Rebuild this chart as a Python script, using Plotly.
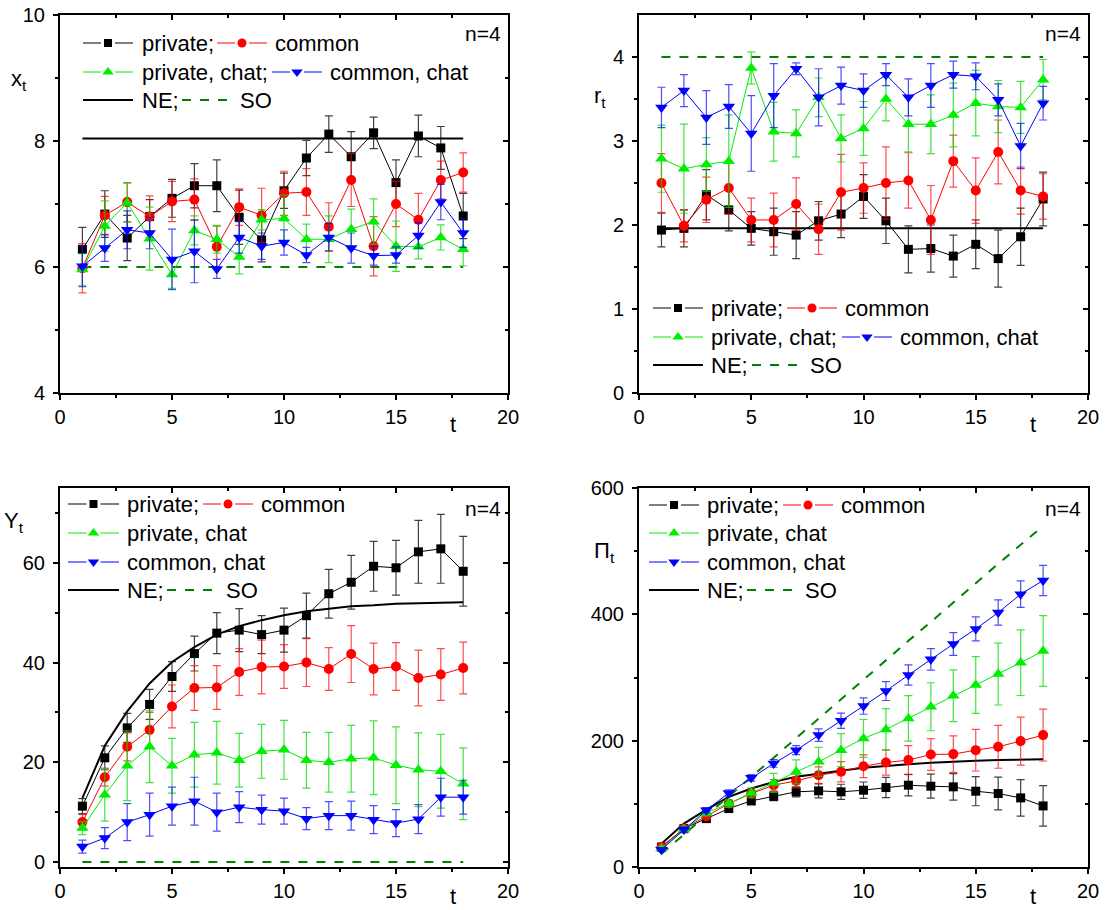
import plotly.graph_objects as go

# ---------------- data ----------------
t = list(range(1, 19))

# panel 1: x_t
x_private = [6.28, 6.84, 6.46, 6.80, 7.09, 7.29, 7.29, 6.79, 6.43, 7.21, 7.73, 8.11, 7.75, 8.13, 7.34, 8.08, 7.89, 6.81]
x_private_err = [0.35, 0.37, 0.36, 0.27, 0.30, 0.35, 0.41, 0.43, 0.35, 0.28, 0.28, 0.29, 0.40, 0.25, 0.36, 0.33, 0.34, 0.36]
x_common = [5.98, 6.82, 7.03, 6.80, 7.04, 7.07, 6.32, 6.95, 6.82, 7.17, 7.19, 6.64, 7.38, 6.33, 7.00, 6.75, 7.38, 7.50]
x_common_err = [0.39, 0.30, 0.31, 0.33, 0.32, 0.33, 0.33, 0.29, 0.43, 0.35, 0.37, 0.38, 0.42, 0.47, 0.36, 0.42, 0.30, 0.31]
x_pchat = [5.96, 6.65, 7.02, 6.45, 5.88, 6.58, 6.44, 6.16, 6.75, 6.77, 6.44, 6.44, 6.60, 6.72, 6.33, 6.32, 6.47, 6.28]
x_pchat_err = [0.25, 0.40, 0.31, 0.50, 0.22, 0.23, 0.22, 0.27, 0.16, 0.37, 0.24, 0.37, 0.32, 0.36, 0.40, 0.19, 0.20, 0.26]
x_cchat = [6.01, 6.30, 6.59, 6.54, 6.12, 6.25, 5.97, 6.47, 6.33, 6.39, 6.19, 6.47, 6.30, 6.18, 6.19, 6.50, 7.03, 6.54]
x_cchat_err = [0.32, 0.21, 0.30, 0.25, 0.48, 0.50, 0.15, 0.25, 0.21, 0.20, 0.12, 0.22, 0.24, 0.15, 0.13, 0.20, 0.28, 0.23]
x_line_t = [1, 18]
x_ne = [8.04, 8.04]
x_so = [6.0, 6.0]

# panel 2: r_t
r_private = [1.94, 1.96, 2.36, 2.18, 1.96, 1.92, 1.88, 2.05, 2.13, 2.34, 2.05, 1.71, 1.72, 1.63, 1.77, 1.60, 1.86, 2.31]
r_private_err = [0.20, 0.22, 0.30, 0.25, 0.20, 0.28, 0.28, 0.23, 0.28, 0.26, 0.27, 0.28, 0.28, 0.25, 0.29, 0.34, 0.34, 0.32]
r_common = [2.50, 1.99, 2.30, 2.44, 2.06, 2.06, 2.25, 1.95, 2.39, 2.44, 2.50, 2.53, 2.06, 2.76, 2.41, 2.87, 2.41, 2.34]
r_common_err = [0.35, 0.19, 0.27, 0.31, 0.26, 0.32, 0.31, 0.30, 0.45, 0.30, 0.43, 0.33, 0.41, 0.31, 0.39, 0.38, 0.28, 0.27]
r_pchat = [2.79, 2.67, 2.72, 2.76, 3.87, 3.11, 3.09, 3.52, 3.03, 3.15, 3.50, 3.20, 3.20, 3.31, 3.45, 3.41, 3.40, 3.73]
r_pchat_err = [0.40, 0.53, 0.32, 0.55, 0.19, 0.35, 0.28, 0.23, 0.28, 0.32, 0.26, 0.33, 0.35, 0.38, 0.39, 0.31, 0.31, 0.24]
r_cchat = [3.40, 3.60, 3.28, 3.41, 3.09, 3.54, 3.86, 3.52, 3.66, 3.60, 3.79, 3.52, 3.66, 3.79, 3.77, 3.49, 2.94, 3.45]
r_cchat_err = [0.24, 0.19, 0.32, 0.26, 0.45, 0.38, 0.07, 0.34, 0.22, 0.20, 0.13, 0.22, 0.26, 0.16, 0.16, 0.19, 0.27, 0.20]
r_line_t = [1, 18]
r_ne = [1.96, 1.96]
r_so = [4.0, 4.0]

# panel 3: Y_t
Y_private = [11.2, 20.9, 26.9, 31.6, 37.2, 41.8, 45.9, 46.5, 45.6, 46.5, 49.4, 53.8, 56.1, 59.3, 59.0, 62.2, 62.8, 58.3]
Y_private_err = [1.5, 2.4, 2.9, 3.0, 3.0, 3.5, 4.1, 4.3, 3.8, 4.4, 4.5, 4.9, 5.4, 5.0, 5.5, 6.3, 6.9, 7.0]
Y_common = [8.0, 17.0, 23.1, 26.5, 31.2, 34.9, 35.0, 38.1, 39.1, 39.2, 40.0, 38.7, 41.7, 38.7, 39.2, 36.9, 37.6, 38.9]
Y_common_err = [1.5, 1.8, 2.8, 3.5, 4.3, 4.5, 4.4, 4.7, 5.4, 4.4, 4.8, 4.3, 5.7, 5.2, 4.8, 5.6, 5.2, 5.2]
Y_pchat = [6.8, 13.5, 19.3, 23.1, 19.3, 21.5, 21.9, 20.4, 22.2, 22.5, 20.4, 20.0, 20.7, 20.9, 19.4, 18.5, 18.2, 15.7]
Y_pchat_err = [1.3, 5.3, 7.0, 7.2, 5.5, 6.5, 6.3, 5.4, 5.4, 5.9, 5.6, 6.0, 6.7, 7.4, 7.7, 7.4, 7.4, 7.2]
Y_cchat = [3.1, 4.8, 8.0, 9.5, 11.2, 12.2, 10.0, 11.0, 10.5, 10.2, 8.7, 9.3, 9.3, 8.5, 7.8, 8.6, 13.0, 13.0]
Y_cchat_err = [1.3, 2.1, 3.7, 4.3, 3.8, 4.8, 3.8, 3.1, 2.9, 2.6, 2.2, 2.8, 2.9, 2.8, 2.7, 2.9, 3.8, 3.4]
Y_ne = [12.8, 23.3, 30.2, 35.8, 40.1, 43.1, 45.6, 47.3, 48.5, 49.5, 50.3, 50.8, 51.3, 51.5, 51.8, 51.9, 52.0, 52.1]
Y_so_t = [1, 18]
Y_so = [0.0, 0.0]

# panel 4: Pi_t
P_private = [31.7, 60.8, 76.6, 92.5, 104.7, 112.0, 119.0, 120.5, 119.0, 121.6, 125.8, 129.5, 127.9, 126.9, 120.0, 116.3, 109.4, 96.7]
P_private_err = [4, 5, 5, 6, 6, 7, 8, 11, 12, 13, 16, 17, 19, 21, 23, 26, 29, 32]
P_common = [31.7, 60.8, 80.3, 100.4, 116.3, 129.5, 136.4, 145.4, 150.7, 159.6, 165.5, 169.2, 178.1, 178.7, 185.0, 190.3, 199.3, 208.8]
P_common_err = [4, 4, 5, 5, 6, 9, 11, 13, 16, 18, 20, 23, 25, 29, 33, 34, 38, 41]
P_pchat = [29.1, 59.2, 85.6, 100.4, 117.3, 133.2, 150.7, 166.5, 185.0, 203.5, 217.8, 235.2, 253.7, 271.2, 288.1, 305.5, 323.5, 342.0]
P_pchat_err = [4, 5, 5, 6, 8, 15, 19, 23, 26, 30, 33, 36, 38, 41, 45, 49, 52, 56]
P_cchat = [27.5, 59.2, 89.9, 117.3, 141.1, 163.9, 185.0, 208.8, 231.5, 254.8, 278.6, 303.9, 328.8, 353.1, 376.9, 402.8, 431.9, 453.5]
P_cchat_err = [3, 4, 4, 5, 5, 6, 7, 10, 12, 13, 15, 16, 17, 18, 19, 20, 21, 24]
P_ne = [37, 68.7, 90.9, 111, 124.2, 134.8, 142.7, 148, 152.2, 157, 160.2, 162.8, 164.9, 167, 168.1, 169.2, 170.2, 170.7]
P_so = [21, 52, 82, 112, 142, 173, 204, 235, 265, 296, 327, 358, 388, 419, 450, 480, 510, 540]

x_ticks = [0, 5, 10, 15, 20]
x_minor = [2.5, 7.5, 12.5, 17.5]

# ---------------- style ----------------
W, H = 1105, 910
FONT = "Liberation Sans, Arial, sans-serif"
C_BLACK, C_RED, C_GREEN, C_BLUE, C_SO = "#000000", "#FF0000", "#00EE00", "#0000FF", "#008000"
ERR_COL = {C_BLACK: "rgba(0,0,0,0.75)", C_RED: "rgba(255,0,0,0.7)",
           C_GREEN: "rgba(0,220,0,0.75)", C_BLUE: "rgba(0,0,255,0.7)"}
SYMS = {"private": ("square", C_BLACK, 9), "common": ("circle", C_RED, 10),
        "pchat": ("triangle-up", C_GREEN, 11), "cchat": ("triangle-down", C_BLUE, 11)}

# panel pixel boxes: (left, top, right, bottom)
boxes = [(60, 15, 508, 393), (639, 15, 1088, 393), (60, 488, 508, 867), (639, 488, 1088, 867)]
yranges = [[4, 10], [0, 4.5], [-1, 75], [0, 600]]
yticks = [[4, 6, 8, 10], [0, 1, 2, 3, 4], [0, 20, 40, 60], [0, 200, 400, 600]]
yminor = [[5, 7, 9], [0.5, 1.5, 2.5, 3.5], [10, 30, 50, 70], [100, 300, 500]]

fig = go.Figure()
layout = dict(width=W, height=H, margin=dict(l=0, r=0, t=0, b=0, pad=0, autoexpand=False),
              paper_bgcolor="white", plot_bgcolor="rgba(0,0,0,0)",
              showlegend=False, font=dict(family=FONT, size=20, color="black"))

for i, (l, tp, r, b) in enumerate(boxes):
    n = i + 1
    m = i + 5
    xd = [l / W, r / W]
    yd = [1 - b / H, 1 - tp / H]
    layout[f"xaxis{n}"] = dict(domain=xd, range=[0, 20], anchor=f"y{n}", showline=True, linewidth=2,
                               linecolor="black", mirror=True, ticks="outside", ticklen=5, tickwidth=1.5,
                               tickcolor="black", tickvals=x_ticks, showgrid=False, zeroline=False,
                               tickfont=dict(size=20), ticklabelstandoff=0, automargin=False,
                               minor=dict(tickvals=x_minor, ticks="outside", ticklen=3, tickwidth=1.5,
                                          tickcolor="black", showgrid=False))
    layout[f"yaxis{n}"] = dict(domain=yd, range=yranges[i], anchor=f"x{n}", showline=True, linewidth=2,
                               linecolor="black", mirror=True, ticks="outside", ticklen=5, tickwidth=1.5,
                               tickcolor="black", tickvals=yticks[i], showgrid=False, zeroline=False,
                               tickfont=dict(size=20), ticklabelstandoff=4, automargin=False,
                               minor=dict(tickvals=yminor[i], ticks="outside", ticklen=3, tickwidth=1.5,
                                          tickcolor="black", showgrid=False))
    # inward ticks on top / right
    layout[f"xaxis{m}"] = dict(overlaying=f"x{n}", side="top", anchor=f"y{m}", range=[0, 20],
                               showline=False, ticks="inside", ticklen=5, tickwidth=1.5, tickcolor="black",
                               tickvals=x_ticks, showticklabels=False, showgrid=False, zeroline=False,
                               automargin=False,
                               minor=dict(tickvals=x_minor, ticks="inside", ticklen=3, tickwidth=1.5,
                                          tickcolor="black", showgrid=False))
    layout[f"yaxis{m}"] = dict(overlaying=f"y{n}", side="right", anchor=f"x{m}", range=yranges[i],
                               showline=False, ticks="inside", ticklen=5, tickwidth=1.5, tickcolor="black",
                               tickvals=yticks[i], showticklabels=False, showgrid=False, zeroline=False,
                               automargin=False,
                               minor=dict(tickvals=yminor[i], ticks="inside", ticklen=3, tickwidth=1.5,
                                          tickcolor="black", showgrid=False))
    fig.add_trace(go.Scatter(x=[None], y=[None], xaxis=f"x{m}", yaxis=f"y{m}", showlegend=False,
                             hoverinfo="skip", mode="markers"))

# pixel overlay for legends / labels
layout["xaxis9"] = dict(domain=[0, 1], range=[0, W], anchor="y9", visible=False, fixedrange=True,
                        automargin=False)
layout["yaxis9"] = dict(domain=[0, 1], range=[H, 0], anchor="x9", visible=False, fixedrange=True,
                        automargin=False)


def ref_line(n, xs, ys, color, width, dash):
    fig.add_trace(go.Scatter(x=xs, y=ys, mode="lines", xaxis=f"x{n}", yaxis=f"y{n}",
                             line=dict(color=color, width=width, dash=dash),
                             hoverinfo="skip", showlegend=False))


def series(n, ys, errs, key):
    sym, col, sz = SYMS[key]
    fig.add_trace(go.Scatter(x=t, y=ys, mode="lines+markers", xaxis=f"x{n}", yaxis=f"y{n}",
                             line=dict(color=col, width=1),
                             marker=dict(symbol=sym, color=col, size=sz, line=dict(width=0)),
                             error_y=dict(type="data", array=errs, visible=True, color=ERR_COL[col],
                                          thickness=1.2, width=4),
                             showlegend=False))


# panel 1
ref_line(1, x_line_t, x_ne, C_BLACK, 2, "solid")
ref_line(1, x_line_t, x_so, C_SO, 2, "dash")
series(1, x_private, x_private_err, "private")
series(1, x_common, x_common_err, "common")
series(1, x_pchat, x_pchat_err, "pchat")
series(1, x_cchat, x_cchat_err, "cchat")
# panel 2
ref_line(2, r_line_t, r_ne, C_BLACK, 2, "solid")
ref_line(2, r_line_t, r_so, C_SO, 2, "dash")
series(2, r_private, r_private_err, "private")
series(2, r_common, r_common_err, "common")
series(2, r_pchat, r_pchat_err, "pchat")
series(2, r_cchat, r_cchat_err, "cchat")
# panel 3
ref_line(3, t, Y_ne, C_BLACK, 2, "solid")
ref_line(3, Y_so_t, Y_so, C_SO, 2, "dash")
series(3, Y_private, Y_private_err, "private")
series(3, Y_common, Y_common_err, "common")
series(3, Y_pchat, Y_pchat_err, "pchat")
series(3, Y_cchat, Y_cchat_err, "cchat")
# panel 4
ref_line(4, t, P_ne, C_BLACK, 2, "solid")
ref_line(4, t, P_so, C_SO, 2, "dash")
series(4, P_private, P_private_err, "private")
series(4, P_common, P_common_err, "common")
series(4, P_pchat, P_pchat_err, "pchat")
series(4, P_cchat, P_cchat_err, "cchat")

# ---------------- manual legends (pixel coordinates) ----------------
annotations = []


def text(x, y, s, size=22, anchor="left"):
    annotations.append(dict(x=x, y=y, xref="x9", yref="y9", text=s, showarrow=False,
                            xanchor=anchor, yanchor="middle", font=dict(family=FONT, size=size, color="black")))


def sample(x0, x1, y, key):
    sym, col, sz = SYMS[key]
    xm = (x0 + x1) / 2
    g = 7
    fig.add_trace(go.Scatter(x=[x0, xm - g, None, xm + g, x1], y=[y, y, None, y, y], mode="lines",
                             xaxis="x9", yaxis="y9", line=dict(color=col, width=1),
                             hoverinfo="skip", showlegend=False))
    fig.add_trace(go.Scatter(x=[xm], y=[y], mode="markers", xaxis="x9", yaxis="y9",
                             marker=dict(symbol=sym, color=col, size=sz - 1, line=dict(width=0)),
                             hoverinfo="skip", showlegend=False))


def ne_sample(x0, x1, y):
    fig.add_trace(go.Scatter(x=[x0, x1], y=[y, y], mode="lines", xaxis="x9", yaxis="y9",
                             line=dict(color=C_BLACK, width=2), hoverinfo="skip", showlegend=False))


def so_sample(x0, x1, y):
    fig.add_trace(go.Scatter(x=[x0, x1], y=[y, y], mode="lines", xaxis="x9", yaxis="y9",
                             line=dict(color=C_SO, width=2, dash="dash"), hoverinfo="skip", showlegend=False))


# panel 1 legend
sample(83, 133, 43, "private"); text(140, 43, "private;")
sample(217, 267, 43, "common"); text(273, 43, "common")
sample(83, 133, 72, "pchat"); text(140, 72, "private, chat;")
sample(272, 322, 72, "cchat"); text(328, 72, "common, chat")
ne_sample(83, 133, 100); text(140, 100, "NE;")
so_sample(182, 232, 100); text(238, 100, "SO")
# panel 2 legend
sample(653, 703, 308, "private"); text(709, 308, "private;")
sample(787, 837, 308, "common"); text(843, 308, "common")
sample(653, 703, 337, "pchat"); text(709, 337, "private, chat;")
sample(842, 892, 337, "cchat"); text(898, 337, "common, chat")
ne_sample(653, 703, 365); text(709, 365, "NE;")
so_sample(752, 802, 365); text(808, 365, "SO")
# panel 3 legend
sample(68, 119, 504, "private"); text(125, 504, "private;")
sample(203, 253, 504, "common"); text(259, 504, "common")
sample(68, 119, 533, "pchat"); text(125, 533, "private, chat")
sample(68, 119, 562, "cchat"); text(125, 562, "common, chat")
ne_sample(68, 119, 590); text(125, 590, "NE;")
so_sample(167, 217, 590); text(224, 590, "SO")
# panel 4 legend
sample(649, 699, 505, "private"); text(705, 505, "private;")
sample(783, 833, 505, "common"); text(839, 505, "common")
sample(649, 699, 533, "pchat"); text(705, 533, "private, chat")
sample(649, 699, 562, "cchat"); text(705, 562, "common, chat")
ne_sample(649, 699, 590); text(705, 590, "NE;")
so_sample(747, 797, 590); text(803, 590, "SO")

# n=4 labels
for (x, y) in [(503, 33), (1083, 33), (503, 508), (1083, 508)]:
    text(x, y, "n=4", size=21, anchor="right")

# axis labels
text(19, 80, "x<sub>t</sub>", size=22, anchor="center")
text(600, 97, "r<sub>t</sub>", size=22, anchor="center")
text(14, 522, "Y<sub>t</sub>", size=22, anchor="center")
text(604, 552, "Π<sub>t</sub>", size=22, anchor="center")
for (x, y) in [(453, 424), (1033, 424), (453, 896), (1033, 896)]:
    text(x, y, "t", size=22, anchor="center")

layout["annotations"] = annotations
fig.update_layout(**layout)
fig.write_html("out.html", config={"displayModeBar": False},
               post_script="document.body.style.margin='0';document.body.style.overflow='hidden';")
